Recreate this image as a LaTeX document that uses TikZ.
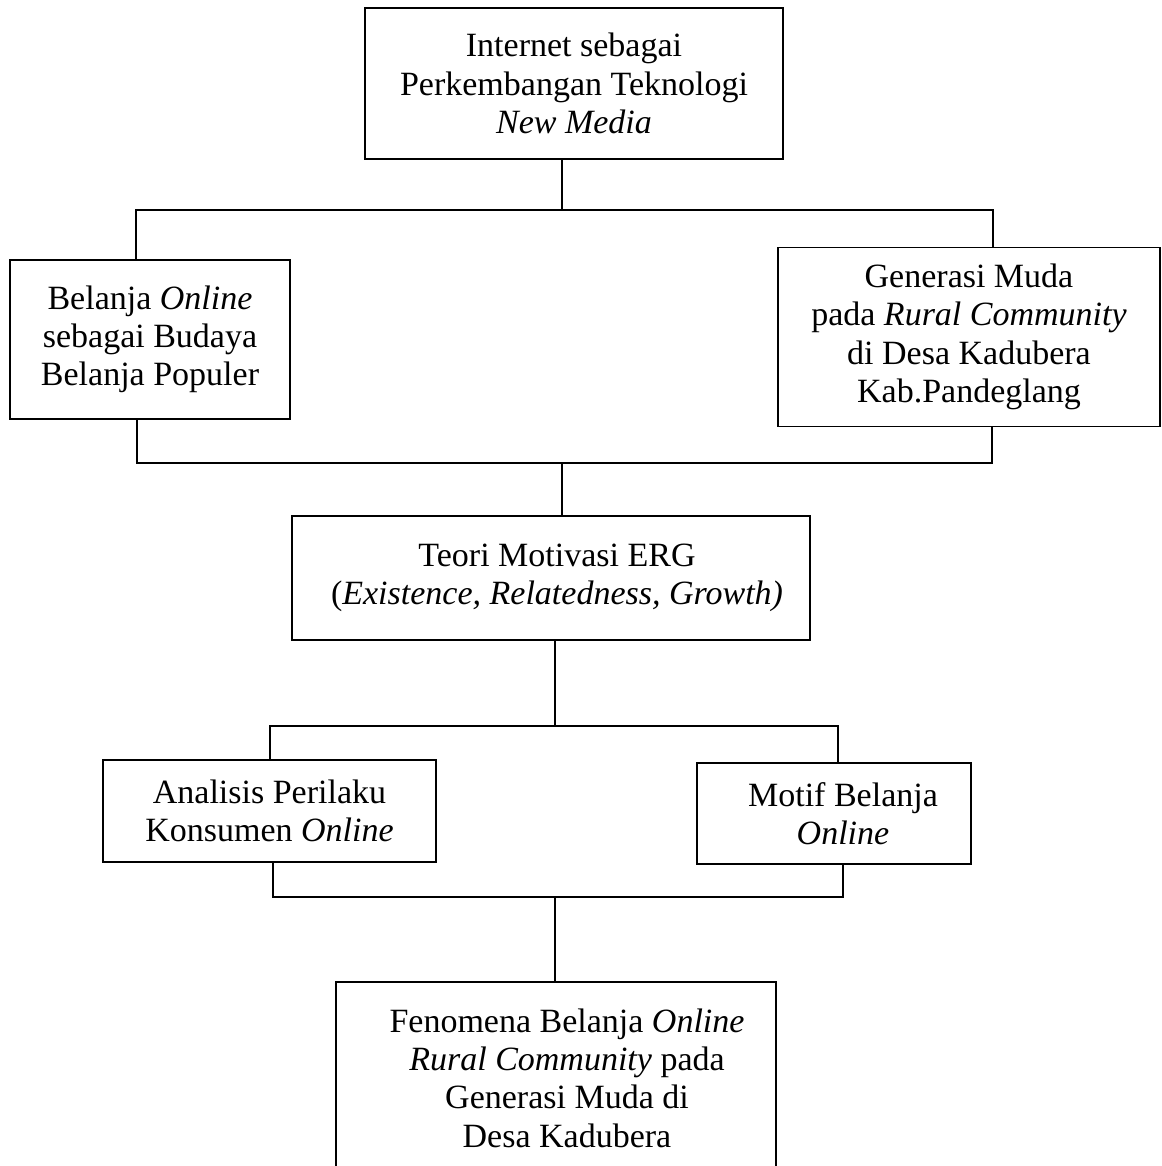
\documentclass[tikz,border=0pt]{standalone}
\usepackage{fontspec}
\setmainfont{Liberation Serif}
\begin{document}
\begin{tikzpicture}[x=1pt,y=-1pt,
  boxnode/.style={draw, line width=1.8pt, inner sep=0pt, align=center,
    font=\fontsize{34}{38.3}\selectfont},
  link/.style={line width=1.8pt}]
\useasboundingbox (0,0) rectangle (1161,1166);
% boxes
\node[boxnode, minimum width=418, minimum height=151] (b1) at (574,83.5)
  {Internet sebagai\\Perkembangan Teknologi\\\textit{New Media}};
\node[boxnode, minimum width=280, minimum height=159] (b2) at (150,339.5)
  {Belanja \textit{Online}\\sebagai Budaya\\Belanja Populer};
\node[boxnode, minimum width=382, minimum height=179] (b3) at (969,337)
  {Generasi Muda\\pada \textit{Rural Community}\\di Desa Kadubera\\Kab.Pandeglang};
\node[boxnode, minimum width=518, minimum height=124] (b4) at (551,578)
  {\hspace*{12pt}Teori Motivasi ERG\\\hspace*{12pt}(\textit{Existence, Relatedness, Growth)}};
\node[boxnode, minimum width=333, minimum height=102] (b5) at (269.5,811)
  {Analisis Perilaku\\Konsumen \textit{Online}};
\node[boxnode, minimum width=274, minimum height=101] (b6) at (834,813.5)
  {\hspace*{18pt}Motif Belanja\\\hspace*{18pt}\textit{Online}};
\node[boxnode, minimum width=440, minimum height=192] (b7) at (556,1078)
  {\hspace*{22pt}Fenomena Belanja \textit{Online}\\\hspace*{22pt}\textit{Rural Community} pada\\\hspace*{22pt}Generasi Muda di\\\hspace*{22pt}Desa Kadubera};
% junctions
\coordinate (j1) at (562,210);
\coordinate (j1l) at (136,210);
\coordinate (j1r) at (993,210);
\coordinate (j2) at (562,463);
\coordinate (j2l) at (137,463);
\coordinate (j2r) at (992,463);
\coordinate (j3) at (555,726);
\coordinate (j3l) at (270,726);
\coordinate (j3r) at (838,726);
\coordinate (j4) at (555,897);
\coordinate (j4l) at (273,897);
\coordinate (j4r) at (843,897);
% connectors
\draw[link] (b1.south -| j1) -- (j1);
\draw[link] (b2.north -| j1l) -- (j1l) -- (j1r) -- (b3.north -| j1r);
\draw[link] (b2.south -| j2l) -- (j2l) -- (j2r) -- (b3.south -| j2r);
\draw[link] (j2) -- (b4.north -| j2);
\draw[link] (b4.south -| j3) -- (j3);
\draw[link] (b5.north -| j3l) -- (j3l) -- (j3r) -- (b6.north -| j3r);
\draw[link] (b5.south -| j4l) -- (j4l) -- (j4r) -- (b6.south -| j4r);
\draw[link] (j4) -- (b7.north -| j4);
\end{tikzpicture}
\end{document}
